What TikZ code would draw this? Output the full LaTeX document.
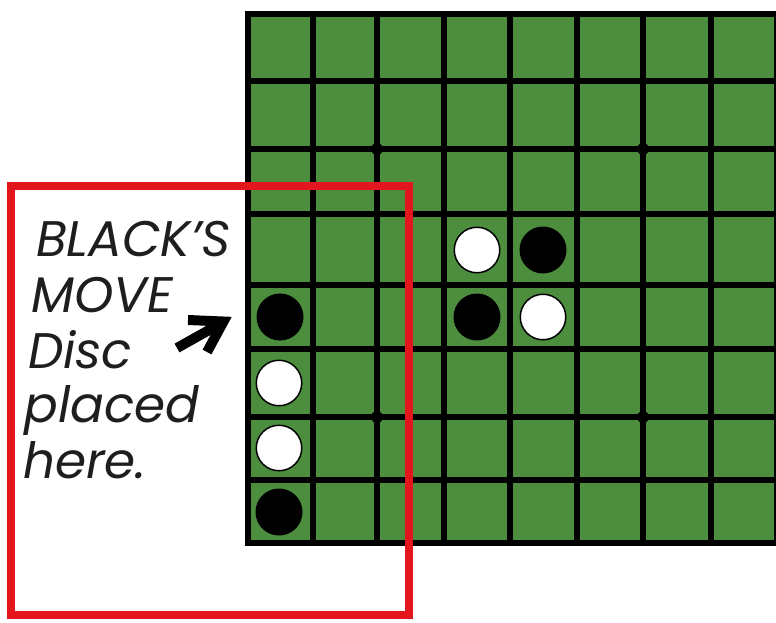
\documentclass[tikz,border=0pt]{standalone}
\usepackage{fontspec}
\newfontfamily\labfont{Poppins}
\definecolor{boardgreen}{RGB}{76,142,62}
\definecolor{framered}{RGB}{226,22,28}
\definecolor{inkgrey}{RGB}{30,30,30}
\begin{document}
\begin{tikzpicture}[x=1pt,y=-1pt,
  gridline/.style={line width=6pt, draw=black},
  blackdisc/.style={circle, fill=black, minimum size=47pt, inner sep=0pt},
  whitedisc/.style={circle, fill=white, draw=black, line width=1.5pt, minimum size=45.5pt, inner sep=0pt},
  stardot/.style={circle, fill=black, minimum size=12pt, inner sep=0pt},
  lab/.style={font=\labfont\itshape\fontsize{50}{55}\selectfont, text=inkgrey, anchor=base west, inner sep=0pt},
  frame/.style={draw=framered, line width=8pt},
  pointer/.style={line width=10pt, draw=black, line join=miter}]
\useasboundingbox (0,0) rectangle (776,622);
\clip (0,0) rectangle (776,622);
\fill[white] (0,0) rectangle (776,622);
% board
\fill[boardgreen] (248,14) rectangle (777,543);
\foreach \x in {313,377,444,510,577,643,711}
  \draw[gridline] (\x,14) -- (\x,543);
\foreach \y in {81,149,214,285,349,417,480}
  \draw[gridline] (248,\y) -- (777,\y);
\draw[gridline] (248,14) rectangle (777,543);
% star points
\node[stardot] (s1) at (377,149) {};
\node[stardot] (s2) at (643,149) {};
\node[stardot] (s3) at (377,417) {};
\node[stardot] (s4) at (643,417) {};
% discs
\node[whitedisc] (c1) at (477,250) {};
\node[blackdisc] (c2) at (543,250) {};
\node[blackdisc] (c3) at (477,317) {};
\node[whitedisc] (c4) at (543,317) {};
\node[blackdisc] (e1) at (280,317) {};
\node[whitedisc] (e2) at (279,383) {};
\node[whitedisc] (e3) at (279,448) {};
\node[blackdisc] (e4) at (279,512) {};
% red frame
\draw[frame] (11,186) rectangle (409,615);
% labels
\node[lab] (t1) at (36,256) {BLACK’S};
\node[lab] (t2) at (31,312) {MOVE};
\node[lab] (t3) at (28,368) {Disc};
\node[lab] (t4) at (24,422) {placed};
\node[lab] (t5) at (23,478) {here.};
% arrow
\coordinate (atail) at (177,348);
\coordinate (ashaft) at (218,325);
\coordinate (aarm1) at (188,320);
\coordinate (atip) at (223.5,321.5);
\coordinate (aarm2) at (207,352);
\draw[pointer] (atail) -- (ashaft);
\draw[pointer] (aarm1) -- (atip) -- (aarm2);
\end{tikzpicture}
\end{document}
